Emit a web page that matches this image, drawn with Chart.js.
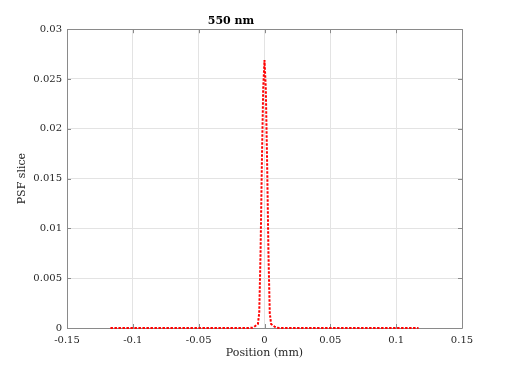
<!DOCTYPE html>
<html>
<head>
<meta charset="utf-8">
<script src="https://cdn.jsdelivr.net/npm/chart.js@4/dist/chart.umd.min.js"></script>
<style>
html,body{margin:0;padding:0;background:#fff;}
#wrap{width:512px;height:369px;}
</style>
</head>
<body>
<div id="wrap"><canvas id="c" width="512" height="369"></canvas></div>
<script>
const chartTitle = '550 nm';
const xLabel = 'Position (mm)';
const yLabel = 'PSF slice';
const positions = [-0.117, -0.012, -0.009, -0.008, -0.007, -0.006, -0.005, -0.004, -0.003, -0.002, -0.001, 0, 0.001, 0.002, 0.003, 0.004, 0.005, 0.006, 0.007, 0.008, 0.009, 0.012, 0.117];
const psfValues = [0, 0, 0.00003, 0.0001, 0.0002, 0.0003, 0.0004, 0.0015, 0.0075, 0.0165, 0.024, 0.0269, 0.024, 0.0165, 0.0075, 0.0015, 0.0004, 0.0003, 0.0002, 0.0001, 0.00003, 0, 0];
const xTicks = [-0.15, -0.1, -0.05, 0, 0.05, 0.1, 0.15];
const yTicks = [0, 0.005, 0.01, 0.015, 0.02, 0.025, 0.03];

const points = positions.map((x, i) => ({x: x, y: psfValues[i]}));
const fmt = v => String(Math.round(v * 1000) / 1000);
const axisColor = '#8a8a8a';
const textColor = '#262626';
const serif = "'DejaVu Serif', serif";

const boxPlugin = {
  id: 'box',
  beforeDatasetsDraw(chart) {
    const {ctx, chartArea: a, scales} = chart;
    ctx.save();
    ctx.strokeStyle = axisColor;
    ctx.lineWidth = 1;
    ctx.beginPath();
    ctx.rect(Math.round(a.left) + 0.5, Math.round(a.top) + 0.5, Math.round(a.right - a.left), Math.round(a.bottom - a.top));
    ctx.stroke();
    const t = 4;
    ctx.beginPath();
    xTicks.forEach(v => {
      const px = Math.round(scales.x.getPixelForValue(v)) + 0.5;
      ctx.moveTo(px, a.bottom); ctx.lineTo(px, a.bottom - t);
      ctx.moveTo(px, a.top); ctx.lineTo(px, a.top + t);
    });
    yTicks.forEach(v => {
      const py = Math.round(scales.y.getPixelForValue(v)) + 0.5;
      ctx.moveTo(a.left, py); ctx.lineTo(a.left + t, py);
      ctx.moveTo(a.right, py); ctx.lineTo(a.right - t, py);
    });
    ctx.stroke();
    ctx.restore();
  }
};

new Chart(document.getElementById('c'), {
  type: 'line',
  data: {
    datasets: [{
      data: points,
      borderColor: '#ff0000',
      borderWidth: 2,
      borderDash: [2.5, 1.5],
      pointRadius: 0,
      tension: 0,
      fill: false,
      clip: false
    }]
  },
  options: {
    responsive: false,
    animation: false,
    devicePixelRatio: 1,
    layout: {padding: {left: 0, right: 50, top: 0, bottom: 0}},
    plugins: {
      legend: {display: false},
      tooltip: {enabled: false},
      title: {
        display: true,
        text: chartTitle,
        color: '#000',
        font: {family: serif, size: 11, weight: 'bold'},
        padding: {top: 15, bottom: 1}
      }
    },
    scales: {
      x: {
        type: 'linear',
        min: -0.15, max: 0.15,
        afterBuildTicks: s => { s.ticks = xTicks.map(v => ({value: v})); },
        afterFit: s => { s.height = 41; },
        grid: {color: '#e3e3e3', drawTicks: false},
        border: {display: false},
        ticks: {color: textColor, font: {family: serif, size: 10}, padding: 6, maxRotation: 0, callback: v => fmt(v)},
        title: {display: true, text: xLabel, color: textColor, font: {family: serif, size: 11}, padding: {top: 0, bottom: 9}}
      },
      y: {
        type: 'linear',
        min: 0, max: 0.03,
        afterBuildTicks: s => { s.ticks = yTicks.map(v => ({value: v})); },
        afterFit: s => { s.width = 67; },
        grid: {color: '#e3e3e3', drawTicks: false},
        border: {display: false},
        ticks: {color: textColor, font: {family: serif, size: 10}, padding: 5, callback: v => fmt(v)},
        title: {display: true, text: yLabel, color: textColor, font: {family: serif, size: 11}, padding: {top: 16, bottom: 0}}
      }
    }
  },
  plugins: [boxPlugin]
});
</script>
</body>
</html>
